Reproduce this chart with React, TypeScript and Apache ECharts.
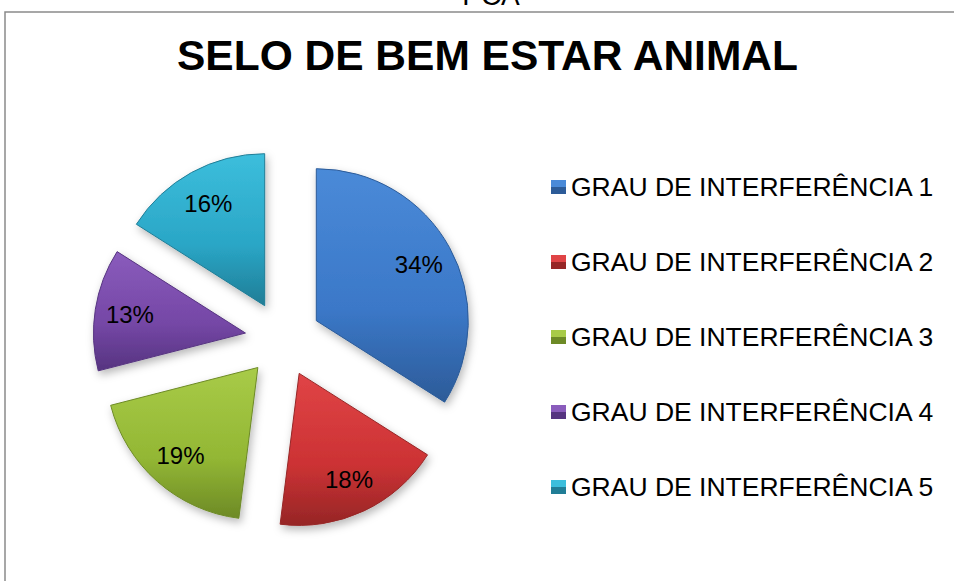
import React, { useEffect, useRef } from "react";
import * as echarts from "echarts";

const categories = [
  "GRAU DE INTERFERÊNCIA 1",
  "GRAU DE INTERFERÊNCIA 2",
  "GRAU DE INTERFERÊNCIA 3",
  "GRAU DE INTERFERÊNCIA 4",
  "GRAU DE INTERFERÊNCIA 5",
];
const values = [34, 18, 19, 13, 16];
const lightColors = ["#4a8ad8", "#e04446", "#a8cb48", "#8a5cbc", "#3cbedc"];
const baseColors = ["#3b78c8", "#cc3234", "#93b734", "#7547a6", "#2aa6c6"];
const darkColors = ["#2c5b98", "#962626", "#6d8a26", "#563480", "#207d96"];
const titleText = "SELO DE BEM ESTAR ANIMAL";
const topText = "PCA";

export default function App() {
  const ref = useRef<HTMLDivElement>(null);
  useEffect(() => {
    if (!ref.current) return;
    const chart = echarts.init(ref.current, null, { renderer: "svg" });
    const font = "Liberation Sans, Arial, Helvetica, sans-serif";
    const mainData = categories.map((name, i) => ({
      name,
      value: values[i],
      selected: true,
      itemStyle: {
        color: new echarts.graphic.LinearGradient(0, 0, 0, 1, [
          { offset: 0, color: lightColors[i] },
          { offset: 0.6, color: baseColors[i] },
          { offset: 1, color: darkColors[i] },
        ]),
        borderColor: darkColors[i],
      },
    }));
    const labelData = categories.map((name, i) => ({
      name,
      value: values[i],
      selected: true,
    }));
    chart.setOption({
      animation: false,
      graphic: [
        {
          type: "rect",
          shape: { x: 5, y: 12, width: 1200, height: 1200 },
          style: { fill: "none", stroke: "#8a8a8a", lineWidth: 1.5 },
          silent: true,
          z: -1,
        },
        {
          type: "text",
          x: 491,
          y: 9,
          style: {
            text: topText,
            font: `28px ${font}`,
            fill: "#000",
            align: "center",
            verticalAlign: "bottom",
          },
          silent: true,
        },
      ],
      title: {
        text: titleText,
        left: 172,
        top: 29,
        textStyle: {
          fontFamily: font,
          fontSize: 42.5,
          fontWeight: "bold",
          color: "#000",
        },
      },
      legend: {
        orient: "vertical",
        left: 546,
        top: 167,
        itemWidth: 15,
        itemHeight: 14,
        itemGap: 45,
        icon: "rect",
        selectedMode: false,
        textStyle: {
          fontFamily: font,
          fontSize: 26.5,
          lineHeight: 30,
          color: "#000",
        },
        data: categories.map((name, i) => ({
          name,
          itemStyle: {
            borderWidth: 0,
            color: new echarts.graphic.LinearGradient(0, 0, 0, 1, [
              { offset: 0, color: lightColors[i] },
              { offset: 0.5, color: lightColors[i] },
              { offset: 0.5, color: darkColors[i] },
              { offset: 1, color: darkColors[i] },
            ]),
          },
        })),
      },
      series: [
        {
          type: "pie",
          center: [283, 339],
          radius: [0, 152],
          startAngle: 90,
          selectedMode: "multiple",
          selectedOffset: 38,
          label: { show: false },
          labelLine: { show: false },
          itemStyle: {
            borderWidth: 1,
            shadowBlur: 8,
            shadowOffsetX: 2,
            shadowOffsetY: 4,
            shadowColor: "rgba(0,0,0,0.28)",
          },
          emphasis: { disabled: true },
          data: mainData,
          z: 2,
        },
        {
          type: "pie",
          center: [283, 339],
          radius: [76, 152],
          startAngle: 90,
          selectedMode: "multiple",
          selectedOffset: 38,
          silent: true,
          itemStyle: { color: "rgba(0,0,0,0)" },
          label: {
            show: true,
            position: "inside",
            formatter: "{c}%",
            fontFamily: font,
            fontSize: 24,
            color: "#000",
          },
          labelLine: { show: false },
          emphasis: { disabled: true },
          data: labelData,
          z: 3,
        },
      ],
    });
    return () => chart.dispose();
  }, []);
  return (
    <div
      ref={ref}
      style={{ position: "absolute", left: 0, top: 0, width: 954, height: 581 }}
    />
  );
}
